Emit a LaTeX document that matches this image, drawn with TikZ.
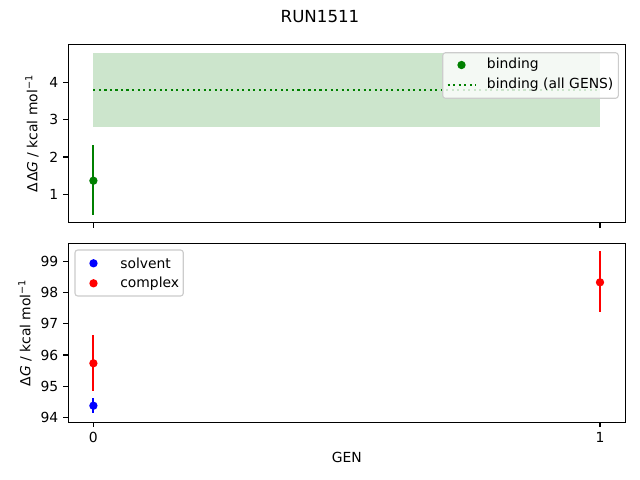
\documentclass[tikz,border=0pt]{standalone}
\usepackage{fontspec}
\setmainfont{DejaVu Sans}
\definecolor{vert}{RGB}{0,128,0}
\definecolor{rouge}{RGB}{255,0,0}
\definecolor{bleu}{RGB}{0,0,255}
\begin{document}
\begin{tikzpicture}[x=0.72pt,y=-0.72pt]
	\tikzstyle{barre}=[-,line width=1.5pt]
	\tikzset{mesure/.style={circle,fill=#1,inner sep=0pt,minimum size=6pt},mesure/.default={vert}}
	\tikzset{cadre/.style={draw,line width=0.8pt},etiq/.style={font=\fontsize{10}{12}\selectfont,inner sep=0pt}}
	\tikzset{legende/.style={draw=black!20,fill=white,fill opacity=0.8,rounded corners=2pt,line width=0.8pt}}
	\useasboundingbox[fill=white] (0,0) rectangle (640,480);
	\node[etiq,font=\fontsize{12}{14}\selectfont] (titre) at (320,17) {RUN1511};
	% panneau du haut
	\fill[vert,opacity=0.2] (93.4,53.3) rectangle (600,127.3);
	\coordinate (g0) at (93.4,90);
	\coordinate (g1) at (600,90);
	\draw[vert,line width=1.5pt,dash pattern=on 1.5pt off 2.47pt] (g0) -- (g1);
	\coordinate (b0h) at (93.4,145);
	\coordinate (b0b) at (93.4,214.5);
	\draw[barre,vert] (b0h) -- (b0b);
	\node[mesure] (b0) at (93.4,180.7) {};
	\draw[cadre] (68.3,44.5) rectangle (625.5,222.6);
	\draw[line width=0.8pt] (68.3,82.3) -- (63.4,82.3);
	\draw[line width=0.8pt] (68.3,119.6) -- (63.4,119.6);
	\draw[line width=0.8pt] (68.3,157) -- (63.4,157);
	\draw[line width=0.8pt] (68.3,194.3) -- (63.4,194.3);
	\draw[line width=0.8pt] (93.4,222.6) -- (93.4,227.5);
	\draw[line width=0.8pt] (600,222.6) -- (600,227.5);
	\node[etiq,anchor=east] (h4) at (58.5,82.3) {4};
	\node[etiq,anchor=east] (h3) at (58.5,119.6) {3};
	\node[etiq,anchor=east] (h2) at (58.5,157) {2};
	\node[etiq,anchor=east] (h1) at (58.5,194.3) {1};
	\node[etiq,rotate=90] (yhaut) at (32,133.5) {Δ\kern0.5pt Δ\textit{G} / kcal mol\textsuperscript{−1}};
	\draw[legende] (442.7,52.7) rectangle (618.3,98.3);
	\node[mesure] (lg1) at (461.5,65) {};
	\coordinate (lg2a) at (447.7,85);
	\coordinate (lg2b) at (475.5,85);
	\draw[vert,line width=1.5pt,dash pattern=on 1.5pt off 2.47pt] (lg2a) -- (lg2b);
	\node[etiq,anchor=west] (tg1) at (486.7,65) {binding};
	\node[etiq,anchor=west] (tg2) at (486.7,85) {binding (all GENS)};
	% panneau du bas
	\coordinate (s0h) at (93.4,398.3);
	\coordinate (s0b) at (93.4,413.3);
	\draw[barre,bleu] (s0h) -- (s0b);
	\node[mesure=bleu] (s0) at (93.4,405.7) {};
	\coordinate (c0h) at (93.4,335);
	\coordinate (c0b) at (93.4,390.7);
	\draw[barre,rouge] (c0h) -- (c0b);
	\node[mesure=rouge] (c0) at (93.4,363.3) {};
	\coordinate (c1h) at (600,251);
	\coordinate (c1b) at (600,312.3);
	\draw[barre,rouge] (c1h) -- (c1b);
	\node[mesure=rouge] (c1) at (600,282.3) {};
	\draw[cadre] (68.3,243.3) rectangle (625.5,422.3);
	\draw[line width=0.8pt] (68.3,261.7) -- (63.4,261.7);
	\draw[line width=0.8pt] (68.3,292.8) -- (63.4,292.8);
	\draw[line width=0.8pt] (68.3,323.9) -- (63.4,323.9);
	\draw[line width=0.8pt] (68.3,355) -- (63.4,355);
	\draw[line width=0.8pt] (68.3,386.2) -- (63.4,386.2);
	\draw[line width=0.8pt] (68.3,417.3) -- (63.4,417.3);
	\draw[line width=0.8pt] (93.4,422.3) -- (93.4,427.2);
	\draw[line width=0.8pt] (600,422.3) -- (600,427.2);
	\node[etiq,anchor=east] (k99) at (58.5,261.7) {99};
	\node[etiq,anchor=east] (k98) at (58.5,292.8) {98};
	\node[etiq,anchor=east] (k97) at (58.5,323.9) {97};
	\node[etiq,anchor=east] (k96) at (58.5,355) {96};
	\node[etiq,anchor=east] (k95) at (58.5,386.2) {95};
	\node[etiq,anchor=east] (k94) at (58.5,417.3) {94};
	\node[etiq,anchor=north] (x0) at (93.4,432) {0};
	\node[etiq,anchor=north] (x1) at (600,432) {1};
	\node[etiq] (xlab) at (346.9,457) {GEN};
	\node[etiq,rotate=90] (ybas) at (25,332.8) {Δ\textit{G} / kcal mol\textsuperscript{−1}};
	\draw[legende] (75,250) rectangle (183.3,296);
	\node[mesure=bleu] (ls) at (93.5,263.3) {};
	\node[mesure=rouge] (lc) at (93.5,283.3) {};
	\node[etiq,anchor=west] (ts) at (120,263.3) {solvent};
	\node[etiq,anchor=west] (tc) at (120,283.3) {complex};
\end{tikzpicture}
\end{document}
